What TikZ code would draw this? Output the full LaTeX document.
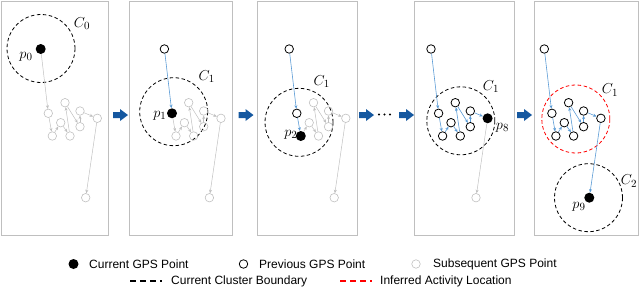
\documentclass[tikz,border=0pt]{standalone}
\usepackage{fontspec}
\setmainfont{Liberation Sans}
\usepackage{amsmath}
\usetikzlibrary{arrows.meta}

\definecolor{panelgray}{RGB}{191,191,191}
\definecolor{ptgray}{RGB}{192,192,192}
\definecolor{linkblue}{RGB}{91,155,213}
\definecolor{arrowblue}{RGB}{21,88,160}

\tikzset{
  panel/.style={draw=panelgray, line width=0.9pt},
  prevpt/.style={circle, draw=black, line width=0.8pt, minimum size=8.5pt, inner sep=0pt},
  curpt/.style={circle, fill=black, minimum size=10pt, inner sep=0pt},
  nextpt/.style={circle, draw=ptgray, line width=0.6pt, minimum size=8.5pt, inner sep=0pt},
  prevlink/.style={draw=linkblue, line width=0.6pt, -{Stealth[length=3.5pt,width=3pt]}},
  nextlink/.style={draw=ptgray, line width=0.5pt, -{Stealth[length=3.5pt,width=3pt]}},
  cluster/.style={circle, draw, dash pattern=on 3.5pt off 2.5pt, line width=0.8pt, minimum size=68pt, inner sep=0pt},
  keyline/.style={dash pattern=on 6pt off 4pt, line width=1.3pt},
  lab/.style={font=\fontsize{15}{17}\selectfont, inner sep=0pt},
  legend/.style={font=\fontsize{12}{14}\selectfont, anchor=west, inner sep=0pt}
}

\def\track{40.7/49, 48.3/113.3, 52.3/136, 60.7/122.7, 70/136, 65/102.7, 80/126.7, 80/111, 97.3/118.3, 85.7/197.7}

\begin{document}
\begin{tikzpicture}[x=1pt, y=-1pt]
    \useasboundingbox (0,0) rectangle (640,287);
    % panels
    \draw[panel] (1.5,1) rectangle (108,235);
    \draw[panel] (129,1) rectangle (232,235);
    \draw[panel] (257,1) rectangle (357,235);
    \draw[panel] (414,1) rectangle (514,235);
    \draw[panel] (534,1) rectangle (638.5,235);
    % step arrows
    \foreach \ax in {113,238.5,359,399,517}
        \fill[arrowblue] (\ax,112) -- ++(7,0) -- ++(0,-3) -- ++(8,6) -- ++(-8,6) -- ++(0,-3) -- ++(-7,0) -- cycle;
    \foreach \d in {379,384.5,390}
        \fill (\d,114.5) circle (1.1pt);
    % clusters
    \node[cluster] (ca) at (41,48.5) {};
    \node[cluster] (cb) at (173.7,111.7) {};
    \node[cluster] (cc) at (299,122.3) {};
    \node[cluster] (cd) at (460.8,120.8) {};
    \node[cluster, draw=red] (ce) at (575.8,119) {};
    \node[cluster] (cf) at (588.5,197.7) {};
    \node[lab] (la) at (82,23.3) {$C_0$};
    \node[lab] (lb) at (206.7,76.7) {$C_1$};
    \node[lab] (lc) at (321.7,81.7) {$C_1$};
    \node[lab] (ld) at (491,86.7) {$C_1$};
    \node[lab] (le) at (610,90) {$C_1$};
    \node[lab] (lf) at (629,181) {$C_2$};
    \node[lab] (qa) at (26,56.7) {$p_0$};
    \node[lab] (qb) at (159.8,115.8) {$p_1$};
    \node[lab] (qc) at (290.8,135) {$p_2$};
    \node[lab] (qd) at (502.5,127.5) {$p_8$};
    \node[lab] (qe) at (579,206.7) {$p_9$};
    % GPS points and links
    \foreach \dx/\cur/\pn in {0/0/a, 123.7/1/b, 248.5/2/c, 390.3/8/d, 503.6/9/e}{
        \foreach \x/\y [count=\i from 0] in \track{
            \ifnum\i<\cur\relax
                \node[prevpt] (\pn\i) at (\x+\dx,\y) {};
            \else\ifnum\i=\cur\relax
                \node[curpt] (\pn\i) at (\x+\dx,\y) {};
            \else
                \node[nextpt] (\pn\i) at (\x+\dx,\y) {};
            \fi\fi
        }
        \foreach \i [evaluate=\i as \j using int(\i+1)] in {0,...,8}{
            \ifnum\j>\cur\relax
                \draw[nextlink] (\pn\i) -- (\pn\j);
            \else
                \draw[prevlink] (\pn\i) -- (\pn\j);
            \fi
        }
    }
    % legend
    \node[curpt] (kcur) at (73.5,264) {};
    \node[legend] (tcur) at (89,264) {Current GPS Point};
    \node[prevpt] (kprev) at (243.5,264) {};
    \node[legend] (tprev) at (259,264) {Previous GPS Point};
    \node[nextpt] (knext) at (416,264) {};
    \node[legend] (tnext) at (433,264) {Subsequent GPS Point};
    \coordinate (kb1) at (130,281);
    \coordinate (kb2) at (162,281);
    \draw[keyline] (kb1) -- (kb2);
    \node[legend] (tb) at (171,281) {Current Cluster Boundary};
    \coordinate (kr1) at (340,281);
    \coordinate (kr2) at (372,281);
    \draw[keyline, red] (kr1) -- (kr2);
    \node[legend] (tr) at (380,281) {Inferred Activity Location};
\end{tikzpicture}
\end{document}
